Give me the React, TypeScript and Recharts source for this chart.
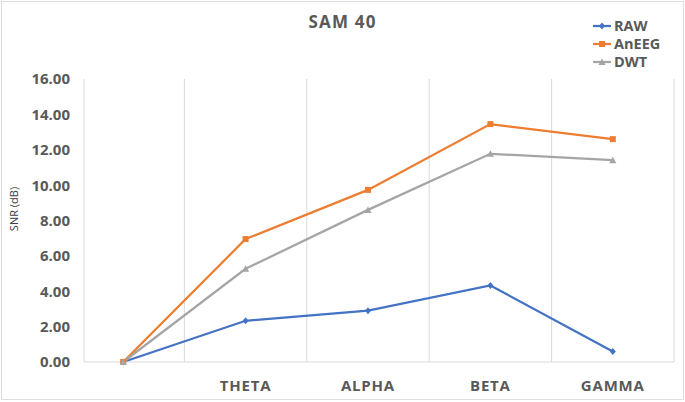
import React from 'react';
import { LineChart, Line, XAxis, YAxis, ReferenceLine, Label } from 'recharts';

const categories = ['', 'THETA', 'ALPHA', 'BETA', 'GAMMA'];
const rawValues = [0, 2.33, 2.9, 4.33, 0.6];
const aneegValues = [0, 6.95, 9.73, 13.45, 12.6];
const dwtValues = [0, 5.27, 8.6, 11.77, 11.41];
const yTicks = [0, 2, 4, 6, 8, 10, 12, 14, 16];
const xTicks = [0, 1, 2, 3, 4];
const categoryBoundaries = [0.5, 1.5, 2.5, 3.5, 4.5];
const xDomain = [-0.32, 4.5];

const data = categories.map((c, i) => ({
  x: i,
  name: c,
  RAW: rawValues[i],
  AnEEG: aneegValues[i],
  DWT: dwtValues[i],
}));

const series = [
  { key: 'RAW', color: '#4472C4', shape: 'diamond' },
  { key: 'AnEEG', color: '#ED7D31', shape: 'square' },
  { key: 'DWT', color: '#A5A5A5', shape: 'triangle' },
];

const FONT = '"Open Sans", sans-serif';
const TEXT = '#595959';

function Marker({ cx, cy, shape, color }: any) {
  if (cx == null || cy == null) return null;
  if (shape === 'diamond') {
    return <path d={`M${cx},${cy - 3.5}L${cx + 3},${cy}L${cx},${cy + 3.5}L${cx - 3},${cy}Z`} fill={color} />;
  }
  if (shape === 'square') {
    return <rect x={cx - 3} y={cy - 3} width={6} height={6} fill={color} />;
  }
  return <path d={`M${cx},${cy - 3.5}L${cx + 3.6},${cy + 3}L${cx - 3.6},${cy + 3}Z`} fill={color} />;
}

const XTick = ({ x, y, payload }: any) => (
  <text x={x} y={y + 21.5} dy="0.36em" textAnchor="middle" fill={TEXT}
    style={{ fontFamily: FONT, fontWeight: 700, fontSize: 15, letterSpacing: 0.8 }}>
    {categories[payload.value]}
  </text>
);

const YTick = ({ x, y, payload }: any) => (
  <text x={x} y={y} dy="0.36em" textAnchor="end" fill={TEXT}
    style={{ fontFamily: FONT, fontWeight: 700, fontSize: 15 }}>
    {Number(payload.value).toFixed(2)}
  </text>
);

const LegendBlock = () => (
  <div style={{ position: 'absolute', top: 17, left: 593, width: 90, fontFamily: FONT }}>
    {series.map((s) => (
      <div key={s.key} style={{ display: 'flex', alignItems: 'center', height: 18 }}>
        <svg width={19} height={10} style={{ marginRight: 2 }}>
          <line x1={0} y1={5} x2={18} y2={5} stroke={s.color} strokeWidth={2.25} />
          <Marker cx={9} cy={5} shape={s.shape} color={s.color} />
        </svg>
        <span style={{ color: TEXT, fontWeight: 700, fontSize: 14.5, lineHeight: '18px' }}>{s.key}</span>
      </div>
    ))}
  </div>
);

export default function App() {
  return (
    <div style={{ position: 'absolute', left: 0, top: 0, width: 685, height: 402, background: '#fff' }}>
      <div style={{ position: 'absolute', left: 1, top: 1, width: 681, height: 397, border: '1px solid #DEDEDE' }} />
      <div style={{
        position: 'absolute', left: 0, top: 11, width: 685, textAlign: 'center',
        fontFamily: FONT, fontWeight: 700, fontSize: 17, lineHeight: '22px', color: TEXT, letterSpacing: 1.2,
      }}>
        SAM 40
      </div>
      <LegendBlock />
      <div style={{ position: 'absolute', left: 0, top: 0 }}>
        <LineChart width={685} height={402} data={data} margin={{ top: 79, right: 11, bottom: 0, left: 0 }}>
          <XAxis
            dataKey="x"
            type="number"
            domain={xDomain}
            allowDataOverflow
            ticks={xTicks}
            tick={<XTick />}
            tickLine={false}
            tickSize={0}
            height={40}
            axisLine={{ stroke: '#D9D9D9', strokeWidth: 1 }}
            interval={0}
          />
          <YAxis
            type="number"
            domain={[0, 16]}
            ticks={yTicks}
            tick={<YTick />}
            tickLine={false}
            tickSize={0}
            tickMargin={14}
            width={84}
            axisLine={{ stroke: '#D9D9D9', strokeWidth: 1 }}
            interval={0}
          >
            <Label
              content={() => (
                <text x={14} y={209} transform="rotate(-90 14 209)" textAnchor="middle" dy="0.36em"
                  fill="#404040" style={{ fontFamily: FONT, fontSize: 11 }}>
                  SNR (dB)
                </text>
              )}
            />
          </YAxis>
          {categoryBoundaries.map((b) => (
            <ReferenceLine key={b} x={b} stroke="#D9D9D9" strokeWidth={1} />
          ))}
          {series.map((s) => (
            <Line
              key={s.key}
              dataKey={s.key}
              stroke={s.color}
              strokeWidth={2.25}
              isAnimationActive={false}
              dot={(p: any) => <Marker key={`${s.key}-${p.index}`} cx={p.cx} cy={p.cy} shape={s.shape} color={s.color} />}
              activeDot={false}
            />
          ))}
        </LineChart>
      </div>
    </div>
  );
}
